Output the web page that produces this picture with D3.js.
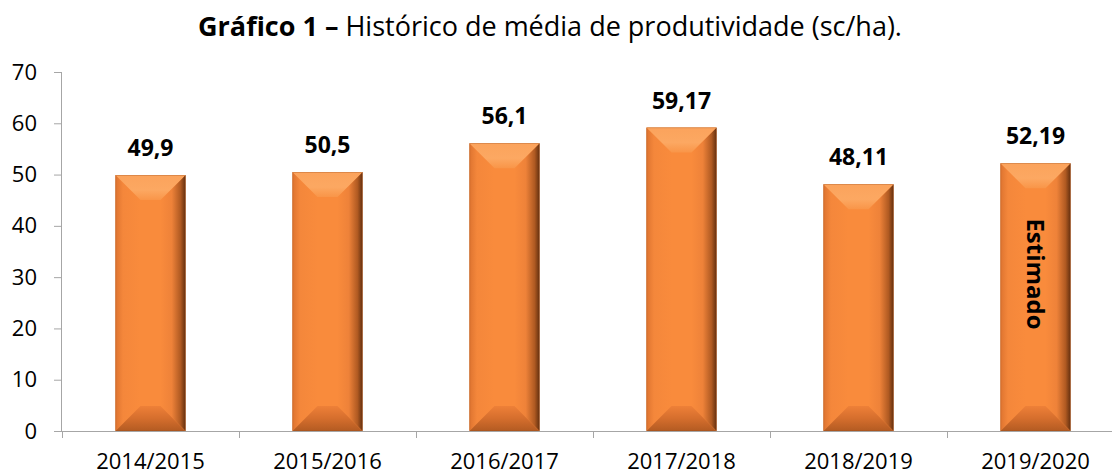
<!DOCTYPE html>
<html>
<head>
<meta charset="utf-8">
<script src="https://cdn.jsdelivr.net/npm/d3@7"></script>
<style>
  body { margin: 0; background: #fff; }
  svg { display: block; }
  svg text { font-family: "Open Sans", sans-serif; fill: #000; }
</style>
</head>
<body>
<div id="chart"></div>
<script>
'use strict';

// data
var safras = ['2014/2015', '2015/2016', '2016/2017', '2017/2018', '2018/2019', '2019/2020'];
var produtividade = [49.9, 50.5, 56.1, 59.17, 48.11, 52.19];
var rotulos = ['49,9', '50,5', '56,1', '59,17', '48,11', '52,19'];
var yTicks = [0, 10, 20, 30, 40, 50, 60, 70];

var width = 1112;
var height = 475;
var plotLeft = 62, plotTop = 72, plotBottom = 431;
var band = 177;
var barW = 70;
var bev = 25;

var svg = d3.select('#chart').append('svg').attr('width', width).attr('height', height);

var x = d3.scaleBand().domain(safras).range([plotLeft, plotLeft + band * safras.length]).paddingInner(0).paddingOuter(0);
var y = d3.scaleLinear().domain([0, 70]).range([plotBottom, plotTop]);

var defs = svg.append('defs');
function grad(id, x1, y1, x2, y2, stops) {
  var g = defs.append('linearGradient').attr('id', id)
    .attr('x1', x1).attr('y1', y1).attr('x2', x2).attr('y2', y2);
  stops.forEach(function (s) {
    g.append('stop').attr('offset', s[0]).attr('stop-color', s[1]);
  });
}
var mainCol = '#f98b3c';
grad('gTop', 0, 0, 0, 1, [[0, '#fba35c'], [0.6, '#fca862'], [1, '#f99548']]);
grad('gBot', 0, 0, 0, 1, [[0, '#ee8038'], [0.5, '#d56e2d'], [1, '#b35b22']]);
grad('gLeft', 0, 0, 1, 0, [[0, '#de7430'], [0.3, '#f4873b'], [1, mainCol]]);
grad('gRight', 0, 0, 1, 0, [[0, mainCol], [0.45, '#ee8239'], [0.8, '#b05a22'], [1, '#64300f']]);

// title
var title = svg.append('text').attr('x', 550).attr('y', 36).attr('text-anchor', 'middle')
  .style('font-size', '27px');
title.append('tspan').style('font-weight', 'bold').text('Gráfico 1 – ');
title.append('tspan').text('Histórico de média de produtividade (sc/ha).');

// axes
var yAxis = svg.append('g').attr('transform', 'translate(' + plotLeft + ',0)')
  .call(d3.axisLeft(y).tickValues(yTicks).tickSize(8).tickPadding(17));
yAxis.attr('font-family', null).attr('font-size', null);
yAxis.select('.domain').attr('stroke', '#a6a6a6').attr('d', 'M-0.5,' + plotTop + 'V' + plotBottom);
yAxis.selectAll('.tick line').attr('stroke', '#a6a6a6');
yAxis.selectAll('.tick text').style('font-size', '22px');

var xAxis = svg.append('g').attr('transform', 'translate(0,' + plotBottom + ')')
  .call(d3.axisBottom(x).tickSize(0).tickPadding(22));
xAxis.attr('font-family', null).attr('font-size', null);
xAxis.select('.domain').attr('stroke', '#a6a6a6').attr('d', 'M' + plotLeft + ',0.5H' + width);
xAxis.selectAll('.tick text').style('font-size', '22px');
// category boundary ticks
svg.append('g').selectAll('line').data(safras).enter().append('line')
  .attr('x1', function (d) { return x(d) + 0.5; })
  .attr('x2', function (d) { return x(d) + 0.5; })
  .attr('y1', plotBottom).attr('y2', plotBottom + 7)
  .attr('stroke', '#a6a6a6');

// bevelled bars
var bars = svg.append('g').selectAll('g').data(produtividade).enter().append('g')
  .attr('transform', function (d, i) {
    return 'translate(' + (x(safras[i]) + (band - barW) / 2) + ',' + y(d) + ')';
  });

bars.each(function (d) {
  var g = d3.select(this);
  var h = y(0) - y(d);
  var w = barW;
  g.append('rect').attr('width', w).attr('height', h).attr('fill', mainCol);
  g.append('polygon').attr('fill', 'url(#gLeft)')
    .attr('points', [[0, 0], [bev, bev], [bev, h - bev], [0, h]].join(' '));
  g.append('polygon').attr('fill', 'url(#gRight)')
    .attr('points', [[w - bev, bev], [w, 0], [w, h], [w - bev, h - bev]].join(' '));
  g.append('polygon').attr('fill', 'url(#gTop)')
    .attr('points', [[0, 0], [w, 0], [w - bev, bev], [bev, bev]].join(' '));
  g.append('polygon').attr('fill', 'url(#gBot)')
    .attr('points', [[0, h], [w, h], [w - bev, h - bev], [bev, h - bev]].join(' '));
  g.append('rect').attr('x', 0.3).attr('y', 0.3).attr('width', w - 0.6).attr('height', h - 0.6)
    .attr('fill', 'none').attr('stroke', '#9a4d1c').attr('stroke-width', 0.6).attr('opacity', 0.5);
});

// value labels
svg.append('g').selectAll('text').data(produtividade).enter().append('text')
  .attr('x', function (d, i) { return x(safras[i]) + band / 2; })
  .attr('y', function (d) { return y(d) - 19; })
  .attr('text-anchor', 'middle')
  .style('font-size', '23px').style('font-weight', 'bold')
  .text(function (d, i) { return rotulos[i]; });

// "Estimado" inside the last bar
var lastX = x(safras[5]) + band / 2;
svg.append('text')
  .attr('transform', 'translate(' + lastX + ',274) rotate(90)')
  .attr('text-anchor', 'middle').attr('dy', '0.35em')
  .style('font-size', '24px').style('font-weight', 'bold')
  .text('Estimado');
</script>
</body>
</html>
